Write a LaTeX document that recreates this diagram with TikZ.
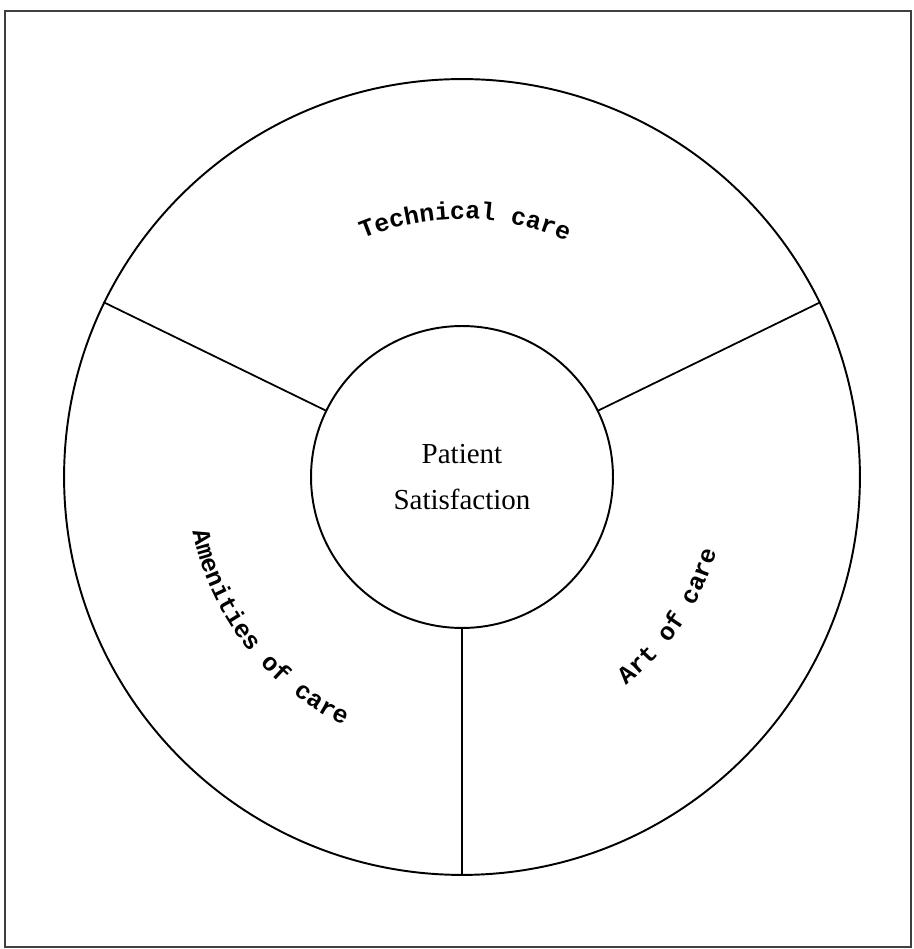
\documentclass[tikz,border=0pt]{standalone}
\usepackage{fontspec}
\setmainfont{Liberation Serif}
\newfontfamily\careface{Liberation Mono}
\usepackage{tikz}
\usetikzlibrary{decorations.text}

\newcommand\carefont{\careface\bfseries\fontsize{14.2}{17}\selectfont}

\tikzset{
  ring/.style={circle, draw, line width=1.1pt, inner sep=0pt},
  spoke/.style={line width=1pt},
  arclabel/.style={decorate, decoration={text along path, text align=center}}
}

\begin{document}
\begin{tikzpicture}[x=0.02cm,y=0.02cm]
  \useasboundingbox (-462,-472) rectangle (451,477);
  \draw[line width=0.9pt, black!75] (-457,-470) rectangle (449,466);

  \node (outer) [ring, minimum size=15.92cm] at (0,0) {};
  \node (core) [ring, minimum size=6.04cm, align=center,
     font=\fontsize{16.5}{26}\selectfont] at (0,0) {Patient\\Satisfaction};

  \draw[spoke] (core.26) -- (outer.26);
  \draw[spoke] (core.154) -- (outer.154);
  \draw[spoke] (core.270) -- (outer.270);

  % labels round the ring
  \path[arclabel, decoration={text={|\carefont|Technical care}}]
    (129.3:258) arc (129.3:49.3:258);
  \path[arclabel, decoration={text={|\carefont|Amenities of care}}]
    (188:275) arc (188:248:275);
  \path[arclabel, decoration={text={|\carefont|Art of care}}]
    (296:265) arc (296:356:265);
\end{tikzpicture}
\end{document}
